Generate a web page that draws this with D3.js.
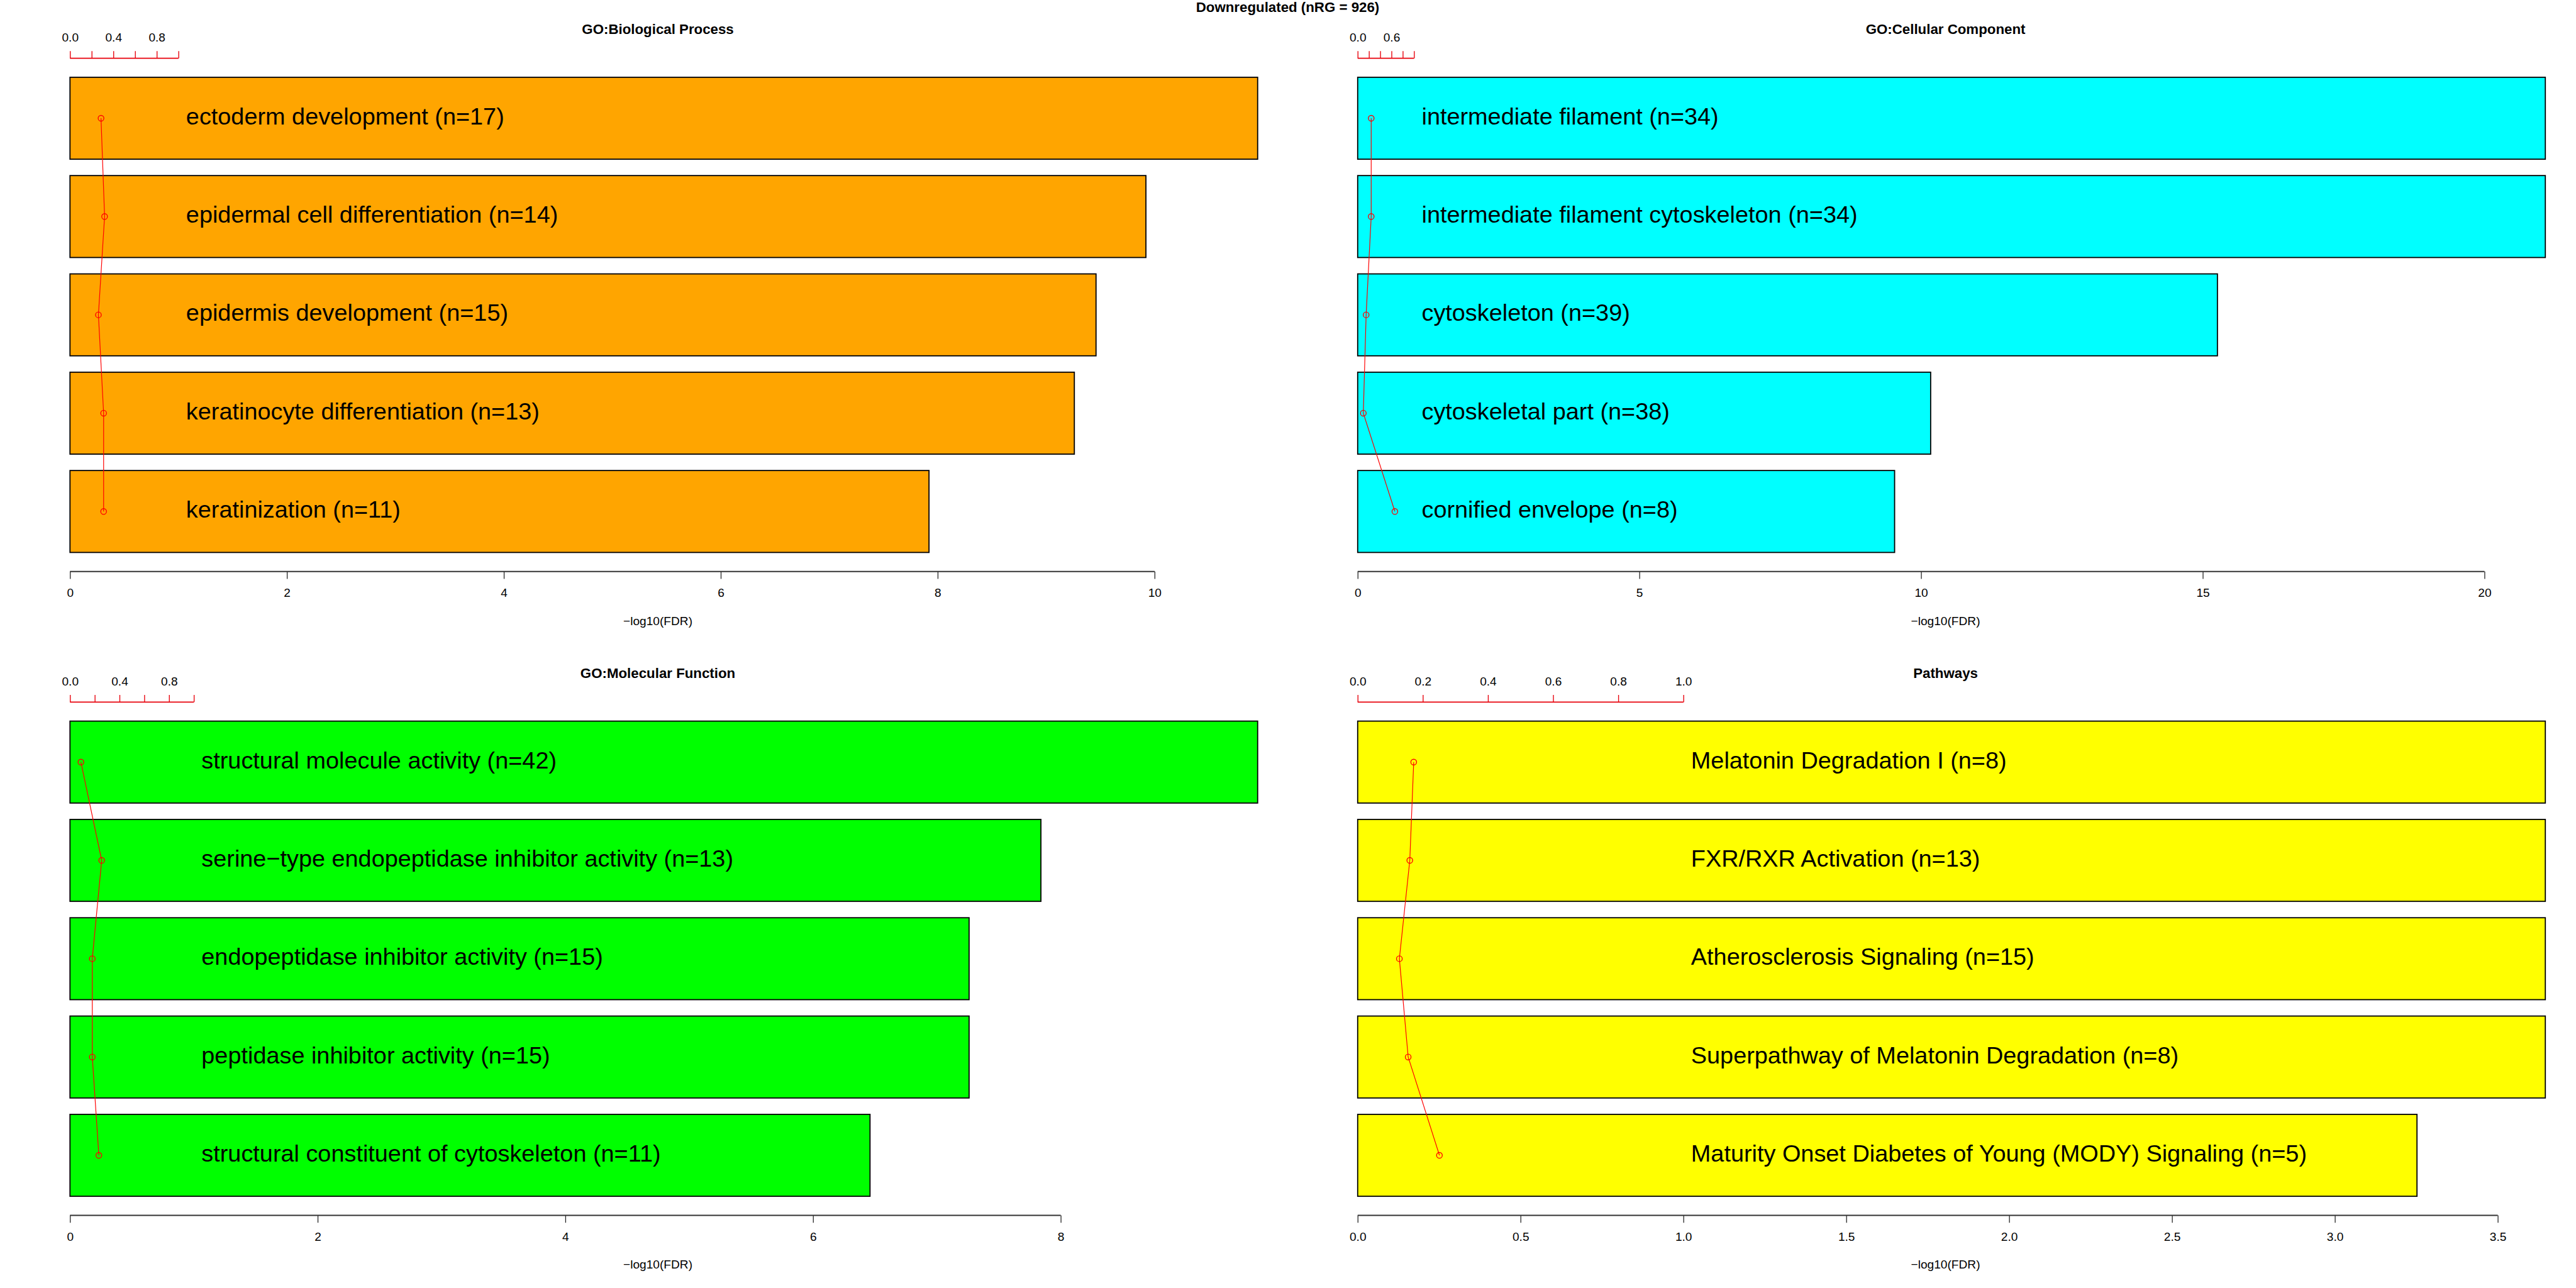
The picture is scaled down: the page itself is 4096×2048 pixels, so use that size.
<!DOCTYPE html>
<html>
<head>
<meta charset="utf-8">
<script src="https://cdn.jsdelivr.net/npm/d3@7"></script>
<style>
  html, body { margin: 0; padding: 0; background: #fff; }
  svg { display: block; }
  text { font-family: "Liberation Sans", Arial, "DejaVu Sans", sans-serif; }
</style>
</head>
<body>
<script>
// ---------------- data ----------------
const mainTitle = "Downregulated (nRG = 926)";
const panelTitles = ["GO:Biological Process", "GO:Cellular Component", "GO:Molecular Function", "Pathways"];
const panelColors = ["#FFA500", "#00FFFF", "#00FF00", "#FFFF00"];

const bpTerms = ["ectoderm development (n=17)", "epidermal cell differentiation (n=14)", "epidermis development (n=15)", "keratinocyte differentiation (n=13)", "keratinization (n=11)"];
const bpValues = [10.95, 9.92, 9.46, 9.26, 7.92];
const bpRatios = [0.286, 0.319, 0.262, 0.310, 0.310];
const bpTicks = [0, 2, 4, 6, 8, 10];

const ccTerms = ["intermediate filament (n=34)", "intermediate filament cytoskeleton (n=34)", "cytoskeleton (n=39)", "cytoskeletal part (n=38)", "cornified envelope (n=8)"];
const ccValues = [21.08, 21.08, 15.26, 10.17, 9.53];
const ccRatios = [0.24, 0.24, 0.15, 0.10, 0.66];
const ccTicks = [0, 5, 10, 15, 20];

const mfTerms = ["structural molecule activity (n=42)", "serine\u2212type endopeptidase inhibitor activity (n=13)", "endopeptidase inhibitor activity (n=15)", "peptidase inhibitor activity (n=15)", "structural constituent of cytoskeleton (n=11)"];
const mfValues = [9.59, 7.84, 7.26, 7.26, 6.46];
const mfRatios = [0.088, 0.256, 0.180, 0.180, 0.233];
const mfTicks = [0, 2, 4, 6, 8];

const pwTerms = ["Melatonin Degradation I (n=8)", "FXR/RXR Activation (n=13)", "Atherosclerosis Signaling (n=15)", "Superpathway of Melatonin Degradation (n=8)", "Maturity Onset Diabetes of Young (MODY) Signaling (n=5)"];
const pwValues = [3.646, 3.646, 3.646, 3.646, 3.252];
const pwRatios = [0.172, 0.160, 0.128, 0.155, 0.251];
const pwTicks = [0, 0.5, 1.0, 1.5, 2.0, 2.5, 3.0, 3.5];

const ratioTicks = [0, 0.2, 0.4, 0.6, 0.8, 1.0];
const xAxisTitle = "\u2212log10(FDR)";

// ---------------- layout (reference pixel units) ----------------
const REF_W = 4500, REF_H = 2250, S = 0.91;
const PANEL_W = 2250, PANEL_H = 1125;
const plotLeft = 122.3, plotRight = 2197.5;
const plotTop = 101.8, plotBottom = 998.5;
const barFont = 41.6, axisFont = 21, titleFont = 24.5;

const panels = [
  { title: panelTitles[0], color: panelColors[0], terms: bpTerms, values: bpValues, ratios: bpRatios, ticks: bpTicks, ox: 0, oy: 0 },
  { title: panelTitles[1], color: panelColors[1], terms: ccTerms, values: ccValues, ratios: ccRatios, ticks: ccTicks, ox: PANEL_W, oy: 0 },
  { title: panelTitles[2], color: panelColors[2], terms: mfTerms, values: mfValues, ratios: mfRatios, ticks: mfTicks, ox: 0, oy: PANEL_H },
  { title: panelTitles[3], color: panelColors[3], terms: pwTerms, values: pwValues, ratios: pwRatios, ticks: pwTicks, ox: PANEL_W, oy: PANEL_H }
];

const svg = d3.select("body").append("svg")
  .attr("width", 4096).attr("height", 2048)
  .attr("viewBox", "0 0 4096 2048");
svg.append("rect").attr("width", 4096).attr("height", 2048).attr("fill", "#fff");

const root = svg.append("g").attr("transform", `scale(${S})`);

root.append("text")
  .attr("x", REF_W / 2).attr("y", 20.7)
  .attr("text-anchor", "middle")
  .attr("font-size", titleFont).attr("font-weight", "bold")
  .text(mainTitle);

panels.forEach(p => {
  const g = root.append("g").attr("transform", `translate(${p.ox},${p.oy})`);
  const n = p.values.length;
  // R barplot geometry: width 1, space 0.2
  const yMax = n * 1.2, yMin = 0.2;
  const pad = (yMax - yMin) * 0.04;
  const x = d3.scaleLinear().domain([0, d3.max(p.values)]).range([plotLeft, plotRight]);
  const y = d3.scaleLinear().domain([yMax + pad, yMin - pad]).range([plotTop, plotBottom]);
  const rows = p.values.map((v, k) => ({
    v, term: p.terms[k], ratio: p.ratios[k],
    top: y(yMax - 1.2 * k), bot: y(yMax - 1.2 * k - 1), mid: y(yMax - 1.2 * k - 0.5)
  }));

  // panel title
  g.append("text")
    .attr("x", 1149.5).attr("y", 59.5)
    .attr("text-anchor", "middle")
    .attr("font-size", titleFont).attr("font-weight", "bold")
    .text(p.title);

  // bars
  g.selectAll("rect.bar").data(rows).join("rect")
    .attr("class", "bar")
    .attr("x", x(0)).attr("y", d => d.top)
    .attr("width", d => x(d.v) - x(0)).attr("height", d => d.bot - d.top)
    .attr("fill", p.color).attr("stroke", "#000").attr("stroke-width", 2);

  // labels
  g.selectAll("text.lab").data(rows).join("text")
    .attr("class", "lab")
    .attr("x", x(1) + 13.3).attr("y", d => d.mid + 0.26 * barFont)
    .attr("font-size", barFont)
    .text(d => d.term);

  // bottom axis
  const fmt = p.ticks.every(Number.isInteger) ? d3.format("d") : d3.format(".1f");
  const ax = g.append("g").attr("transform", `translate(0,${plotBottom})`)
    .call(d3.axisBottom(x).tickValues(p.ticks).tickFormat(fmt).tickSize(13).tickPadding(17));
  ax.select(".domain").remove();
  ax.selectAll(".tick line").attr("stroke", "#222").attr("stroke-width", 1.4);
  ax.selectAll(".tick text").attr("font-size", axisFont).attr("font-family", null).attr("fill", "#000");
  ax.append("line")
    .attr("x1", x(p.ticks[0])).attr("x2", x(p.ticks[p.ticks.length - 1]))
    .attr("y1", 0).attr("y2", 0)
    .attr("stroke", "#333").attr("stroke-width", 2.2);

  g.append("text")
    .attr("x", 1149.5).attr("y", 1092)
    .attr("text-anchor", "middle")
    .attr("font-size", axisFont)
    .text(xAxisTitle);

  // top (ratio) axis in red, same data coordinates
  const rax = g.append("g").attr("transform", `translate(0,${plotTop})`)
    .call(d3.axisTop(x).tickValues(ratioTicks).tickFormat(d3.format(".1f")).tickSize(12.5).tickPadding(17));
  rax.select(".domain").remove();
  rax.selectAll(".tick line").attr("stroke", "#E8000B").attr("stroke-width", 1.5);
  rax.selectAll(".tick text").attr("font-size", axisFont).attr("font-family", null).attr("fill", "#000");
  rax.append("line")
    .attr("x1", x(ratioTicks[0])).attr("x2", x(ratioTicks[ratioTicks.length - 1]))
    .attr("y1", 0).attr("y2", 0)
    .attr("stroke", "#E8000B").attr("stroke-width", 2);
  // R-style overlap removal of tick labels (gap of one 'm')
  const gap = 0.833 * axisFont;
  let lastRight = -Infinity;
  rax.selectAll(".tick").each(function (d) {
    const t = d3.select(this).select("text");
    const w = t.node().getComputedTextLength();
    const cx = x(d);
    if (cx - w / 2 < lastRight + gap) { t.remove(); }
    else { lastRight = cx + w / 2; }
  });

  // red ratio line + points
  const line = d3.line().x(d => x(d.ratio)).y(d => d.mid);
  g.append("path").datum(rows)
    .attr("d", line).attr("fill", "none")
    .attr("stroke", "#FF0000").attr("stroke-width", 1.3);
  g.selectAll("circle.pt").data(rows).join("circle")
    .attr("class", "pt")
    .attr("cx", d => x(d.ratio)).attr("cy", d => d.mid).attr("r", 5)
    .attr("fill", "none").attr("stroke", "#FF0000").attr("stroke-width", 1.5);
});
</script>
</body>
</html>
